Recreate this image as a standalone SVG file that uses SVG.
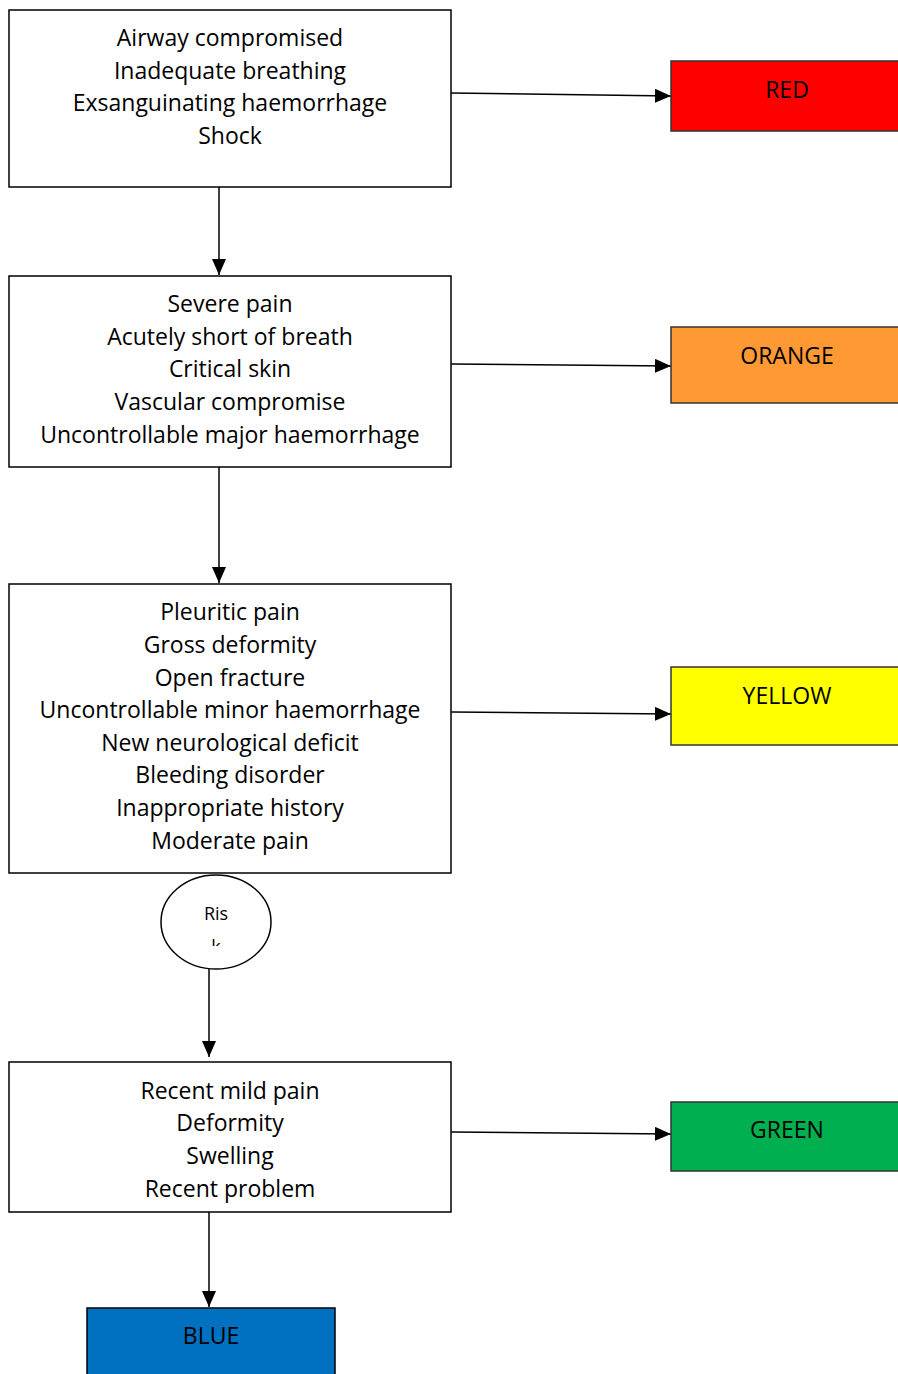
<svg xmlns="http://www.w3.org/2000/svg" width="898" height="1374" viewBox="0 0 898 1374">
<defs>
<marker id="arrbig" markerWidth="16" markerHeight="14" refX="16" refY="7" orient="auto" markerUnits="userSpaceOnUse" viewBox="0 0 16 14">
<path d="M0,0 L16,7 L0,14 z" fill="#000"/>
</marker>
<clipPath id="ellclip"><rect x="150" y="926" width="130" height="20"/></clipPath>
</defs>
<style>
.box{fill:#fff;stroke:#000;stroke-width:1.5}
.cbox{stroke:#333;stroke-width:1.5}
.t{font-family:"Open Sans","Noto Sans","Liberation Sans",sans-serif;font-size:23px;fill:#000;text-anchor:middle}
.c{stroke:#000;stroke-width:1.5;fill:none;marker-end:url(#arrbig)}
</style>
<rect width="898" height="1374" fill="#fff"/>
<g id="connectors">
<path class="c" d="M451,93 L671,96"/>
<path class="c" d="M451,364 L671,366"/>
<path class="c" d="M451,712 L671,714"/>
<path class="c" d="M451,1132 L671,1134"/>
<path class="c" d="M219,187 L219,275"/>
<path class="c" d="M219,467 L219,583"/>
<path class="c" d="M209,969 L209,1057"/>
<path class="c" d="M209,1212 L209,1307"/>
</g>
<g id="n1">
<rect class="box" x="9" y="10" width="442" height="177"/>
<text class="t" x="230" y="46">Airway compromised</text>
<text class="t" x="230" y="79">Inadequate breathing</text>
<text class="t" x="230" y="111">Exsanguinating haemorrhage</text>
<text class="t" x="230" y="144">Shock</text>
</g>
<g id="n2">
<rect class="box" x="9" y="276" width="442" height="191"/>
<text class="t" x="230" y="312">Severe pain</text>
<text class="t" x="230" y="345">Acutely short of breath</text>
<text class="t" x="230" y="377">Critical skin</text>
<text class="t" x="230" y="410">Vascular compromise</text>
<text class="t" x="230" y="443">Uncontrollable major haemorrhage</text>
</g>
<g id="n3">
<rect class="box" x="9" y="584" width="442" height="289"/>
<text class="t" x="230" y="620">Pleuritic pain</text>
<text class="t" x="230" y="653">Gross deformity</text>
<text class="t" x="230" y="686">Open fracture</text>
<text class="t" x="230" y="718">Uncontrollable minor haemorrhage</text>
<text class="t" x="230" y="751">New neurological deficit</text>
<text class="t" x="230" y="783">Bleeding disorder</text>
<text class="t" x="230" y="816">Inappropriate history</text>
<text class="t" x="230" y="849">Moderate pain</text>
</g>
<g id="risk">
<ellipse cx="216" cy="922" rx="55" ry="47" fill="#fff" stroke="#000" stroke-width="1.5"/>
<text class="t" x="216" y="920" style="font-size:18px">Ris</text>
<text class="t" x="216" y="953" style="font-size:18px" clip-path="url(#ellclip)">k</text>
</g>
<g id="n4">
<rect class="box" x="9" y="1062" width="442" height="150"/>
<text class="t" x="230" y="1099">Recent mild pain</text>
<text class="t" x="230" y="1131">Deformity</text>
<text class="t" x="230" y="1164">Swelling</text>
<text class="t" x="230" y="1197">Recent problem</text>
</g>
<g id="red">
<rect class="cbox" x="671" y="61" width="240" height="70" fill="#ff0000"/>
<text class="t" x="787" y="98">RED</text>
</g>
<g id="orange">
<rect class="cbox" x="671" y="327" width="240" height="76" fill="#ff9933"/>
<text class="t" x="787" y="364">ORANGE</text>
</g>
<g id="yellow">
<rect class="cbox" x="671" y="667" width="240" height="78" fill="#ffff00"/>
<text class="t" x="787" y="704">YELLOW</text>
</g>
<g id="green">
<rect class="cbox" x="671" y="1102" width="240" height="69" fill="#00b050"/>
<text class="t" x="787" y="1138">GREEN</text>
</g>
<g id="blue">
<rect class="box" x="87" y="1308" width="248" height="80" style="fill:#0070c0"/>
<text class="t" x="211" y="1344">BLUE</text>
</g>
</svg>
